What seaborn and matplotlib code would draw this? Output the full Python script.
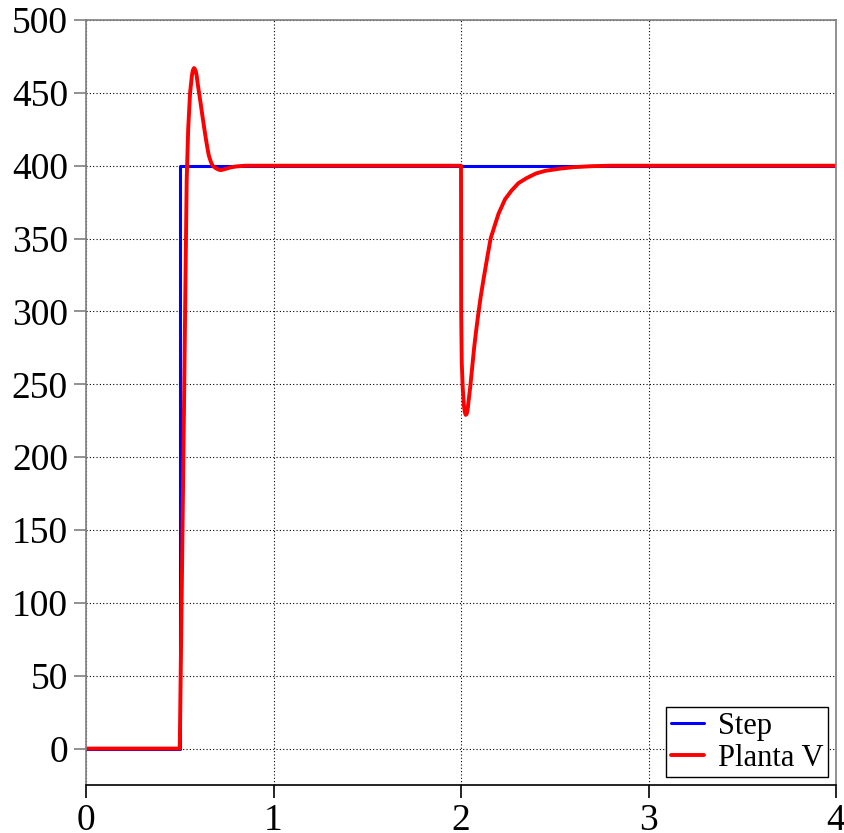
import pandas as pd
import seaborn as sns
import matplotlib.pyplot as plt
import numpy as np

# datos
t_step = [0.0, 0.5, 0.5, 4.0]
v_step = [0.0, 0.0, 400.0, 400.0]

t_planta = [0.0, 0.5, 0.51, 0.52, 0.53, 0.537, 0.545, 0.555, 0.565, 0.57,
            0.576, 0.58, 0.585, 0.59, 0.595, 0.603, 0.61, 0.62, 0.635, 0.645,
            0.655, 0.665, 0.675, 0.69, 0.70, 0.71, 0.72, 0.735, 0.75, 0.77,
            0.80, 0.85, 0.90, 2.0, 2.001, 2.004, 2.009, 2.015, 2.02, 2.025,
            2.03, 2.035, 2.04, 2.05, 2.06, 2.07, 2.08, 2.093, 2.105, 2.12,
            2.14, 2.158, 2.18, 2.20, 2.235, 2.27, 2.306, 2.35, 2.40, 2.45,
            2.528, 2.60, 2.70, 2.80, 3.0, 4.0]
v_planta = [0.0, 0.0, 100.0, 205.0, 315.0, 390.0, 425.0, 450.0, 462.0, 465.5,
            467.0, 466.5, 465.0, 462.0, 457.0, 450.0, 444.0, 435.0, 422.0, 414.0,
            407.0, 403.0, 400.0, 398.5, 397.8, 397.2, 397.0, 397.5, 398.0, 398.8,
            399.5, 400.0, 400.0, 400.0, 300.0, 265.0, 248.0, 236.0, 231.0, 229.0,
            229.5, 232.0, 238.0, 249.0, 262.0, 275.0, 286.0, 299.0, 310.0, 322.0,
            337.0, 350.0, 359.0, 367.0, 377.0, 383.0, 388.0, 391.5, 394.7, 396.5,
            398.0, 399.0, 399.7, 400.0, 400.0, 400.0]

df_step = pd.DataFrame({'t': t_step, 'v': v_step})
df_planta = pd.DataFrame({'t': t_planta, 'v': v_planta})

sns.set_style('white')
plt.rcParams['font.family'] = ['Liberation Serif', 'DejaVu Serif']
plt.rcParams['text.color'] = 'black'

fig = plt.figure(figsize=(8.44, 8.33), dpi=100)
ax = fig.add_axes([86/844, 1-785/833, 750/844, 765/833])

sns.lineplot(data=df_step, x='t', y='v', ax=ax, color='#0000ff', linewidth=2.2,
             estimator=None, sort=False, label='Step')
sns.lineplot(data=df_planta, x='t', y='v', ax=ax, color='#ff0000', linewidth=2.8,
             estimator=None, sort=False, label='Planta V')

ax.set_xlim(0, 4)
ax.set_ylim(-25, 500)
ax.set_xticks([0, 1, 2, 3, 4])
ax.set_yticks(np.arange(0, 501, 50))
ax.set_xlabel('')
ax.set_ylabel('')
ax.grid(True, color='black', linestyle=(0, (1, 2)), linewidth=0.8)

for s in ['left', 'top', 'right']:
    ax.spines[s].set_color('#7f7f7f')
    ax.spines[s].set_linewidth(1.2)
ax.spines['bottom'].set_color('black')
ax.spines['bottom'].set_linewidth(1.2)

ax.tick_params(axis='y', direction='out', length=9, width=1.2, color='#7f7f7f',
               labelsize=27, labelcolor='black', pad=4, left=True)
ax.tick_params(axis='x', direction='out', length=9, width=1.2, color='black',
               labelsize=27, labelcolor='black', pad=4, bottom=True)

leg = ax.legend(loc='lower right', fontsize=22, frameon=True, fancybox=False,
                framealpha=1, edgecolor='black', borderpad=0.15, labelspacing=0.1,
                handlelength=1.1, handletextpad=0.45, borderaxespad=0.25)
leg.get_frame().set_linewidth(1.0)
for txt in leg.get_texts():
    txt.set_color('black')

plt.savefig('out.png', dpi=100)
